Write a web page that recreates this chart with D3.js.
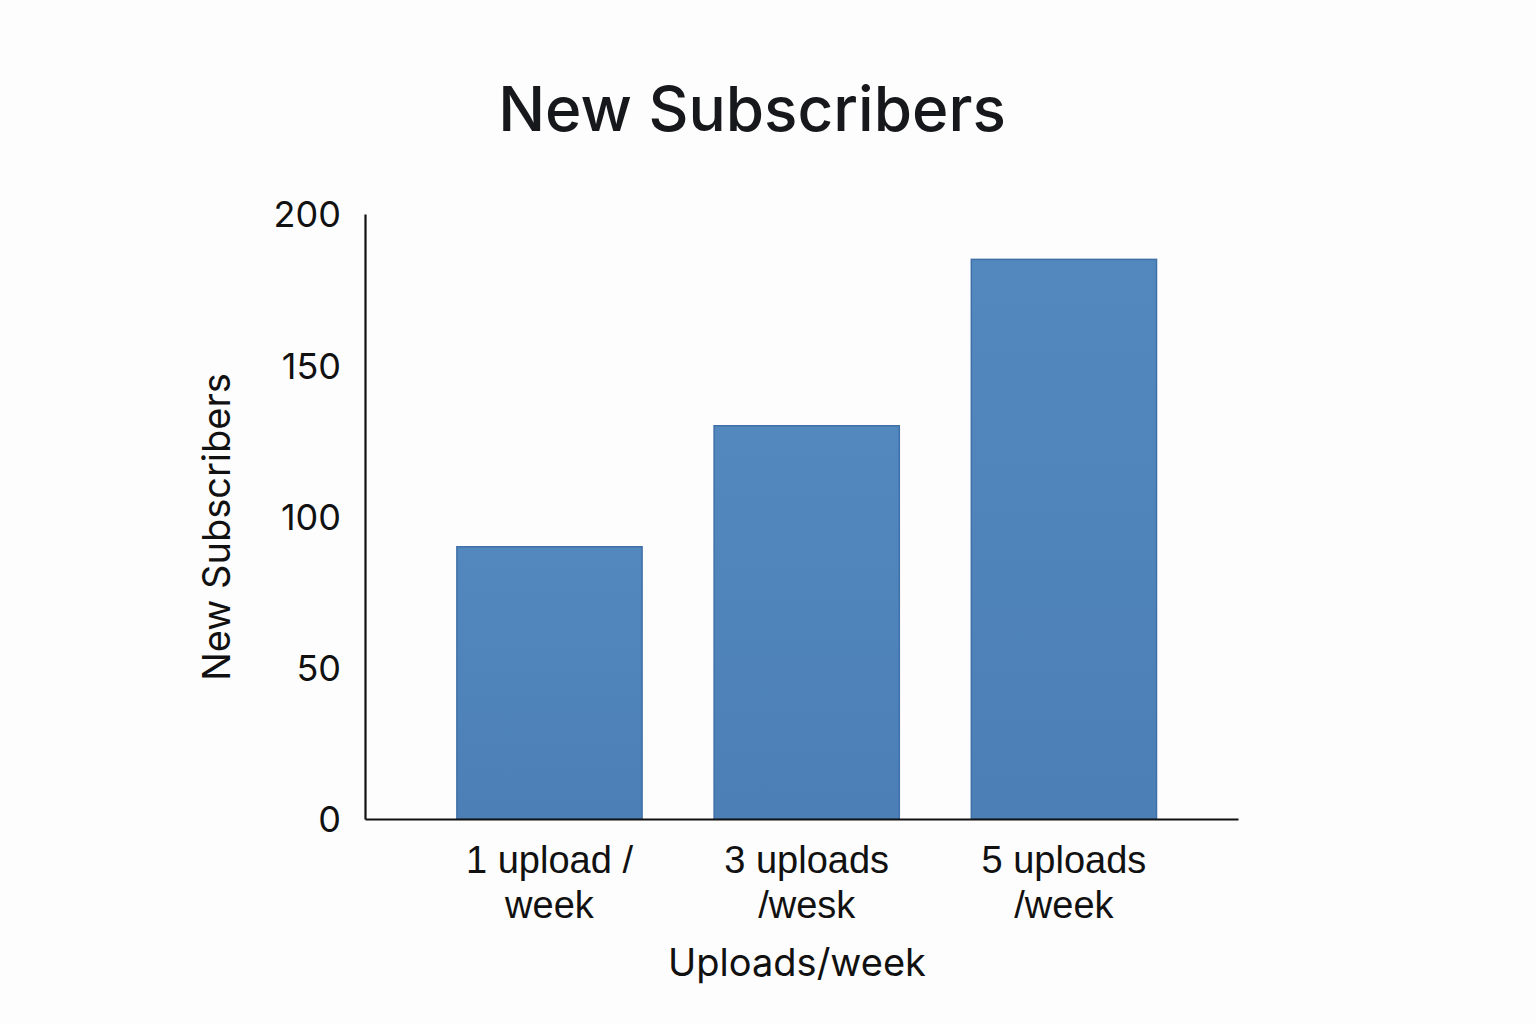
<!DOCTYPE html>
<html>
<head>
<meta charset="utf-8">
<script src="https://cdn.jsdelivr.net/npm/d3@7"></script>
<style>
  html, body { margin: 0; padding: 0; background: #fdfdfd; }
  svg { display: block; font-family: Inter, "Liberation Sans", Arial, sans-serif; }
</style>
</head>
<body>
<svg id="chart" width="1536" height="1024"></svg>
<script>
const categories = ["1 upload/week", "3 uploads/wesk", "5 uploads/week"];
const categoryLines = [["1 upload /", "week"], ["3 uploads", "/wesk"], ["5 uploads", "/week"]];
const subscribers = [90, 130, 185];
const yTicks = [0, 50, 100, 150, 200];

const width = 1536;
const height = 1024;
const margin = { top: 214, right: 298, bottom: 205, left: 365 };
const tickSize = "36px";
const labelSize = "38px";

const svg = d3.select("#chart");

const x = d3
  .scaleBand()
  .domain(categories)
  .range([margin.left, width - margin.right])
  .paddingInner(0.28)
  .paddingOuter(0.337)
  .align(0.53);

const y = d3
  .scaleLinear()
  .domain([0, 200])
  .range([height - margin.bottom, margin.top]);

const defs = svg.append("defs");
const grad = defs
  .append("linearGradient")
  .attr("id", "barFill")
  .attr("x1", "0%").attr("y1", "0%")
  .attr("x2", "0%").attr("y2", "100%");
grad.append("stop").attr("offset", "0%").attr("stop-color", "#5388bf");
grad.append("stop").attr("offset", "100%").attr("stop-color", "#4b7fb6");

// bars
svg
  .append("g")
  .selectAll("rect")
  .data(subscribers)
  .join("rect")
  .attr("x", (d, i) => x(categories[i]))
  .attr("y", (d) => y(d))
  .attr("width", x.bandwidth())
  .attr("height", (d) => y(0) - y(d))
  .attr("fill", "url(#barFill)")
  .attr("stroke", "#3f70a8")
  .attr("stroke-width", 1.5);

// y axis
svg
  .append("g")
  .attr("transform", `translate(${margin.left},0)`)
  .call(d3.axisLeft(y).tickValues(yTicks).tickSize(0).tickPadding(24))
  .call((g) => g.select(".domain").attr("stroke", "#111").attr("stroke-width", 2.2))
  .call((g) =>
    g.selectAll("text")
      .attr("fill", "#111")
      .attr("dy", "0.36em")
      .style("font-size", tickSize)
      .style("font-family", "Inter, 'Liberation Sans', sans-serif")
  );

// x axis
const xAxis = svg
  .append("g")
  .attr("transform", `translate(0,${y(0)})`)
  .call(d3.axisBottom(x).tickSize(0).tickFormat(""));
xAxis.select(".domain").attr("stroke", "#111").attr("stroke-width", 2.2);
xAxis.selectAll(".tick text").remove();
xAxis
  .selectAll(".tick")
  .data(categoryLines)
  .append("text")
  .attr("text-anchor", "middle")
  .attr("fill", "#111")
  .style("font-size", labelSize)
  .selectAll("tspan")
  .data((d) => d)
  .join("tspan")
  .attr("x", 0)
  .attr("y", (d, i) => 54 + i * 45)
  .text((d) => d);

// title
svg
  .append("text")
  .attr("x", 752)
  .attr("y", 131)
  .attr("text-anchor", "middle")
  .attr("fill", "#16181b")
  .style("font-weight", 500)
  .style("font-size", "62px")
  .text("New Subscribers");

// axis titles
svg
  .append("text")
  .attr("x", 797)
  .attr("y", 976)
  .attr("text-anchor", "middle")
  .attr("fill", "#111")
  .style("font-size", labelSize)
  .text("Uploads/week");

svg
  .append("text")
  .attr("transform", "translate(230,527) rotate(-90)")
  .attr("text-anchor", "middle")
  .attr("fill", "#111")
  .style("font-size", labelSize)
  .text("New Subscribers");
</script>
</body>
</html>
